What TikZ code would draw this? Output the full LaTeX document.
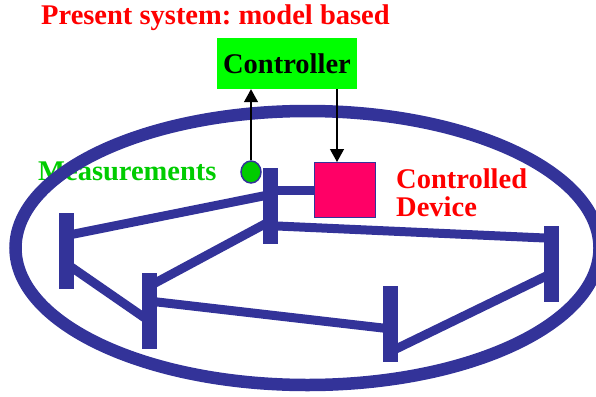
\documentclass[tikz,border=0pt]{standalone}
\usepackage{fontspec}
\setmainfont{Liberation Serif}
\usetikzlibrary{arrows.meta,calc,shapes.geometric}
\definecolor{navy}{RGB}{51,51,153}
\definecolor{brightgreen}{RGB}{0,255,0}
\definecolor{measgreen}{RGB}{0,204,0}
\definecolor{devpink}{RGB}{255,0,102}
\frenchspacing
\begin{document}
\begin{tikzpicture}[x=1pt,y=-1pt,
  lbl/.style={font=\bfseries\fontsize{28.5}{28}\selectfont, inner sep=0pt},
  bar/.style={fill=navy, minimum width=15pt, minimum height=76pt, inner sep=0pt},
  link/.style={draw=navy, line width=9pt},
  arr/.style={draw=black, line width=1.3pt, -{Triangle[width=14pt,length=13pt]}}]
\useasboundingbox (0,0) rectangle (596,396);
% texts
\node[lbl, text=red, anchor=base west] (title) at (41,25) {Present system: model based};
\node[lbl, text=measgreen, anchor=base west] (mtext) at (38,180) {Measurements};
\node[lbl, text=red, anchor=base west, align=left] (dtext) at (396,216) {Controlled\\Device};
% ellipse
\draw[navy, line width=12.5pt] (307.5,248) ellipse [x radius=292pt, y radius=137pt];
% bars
\node[bar] (b1) at (66.5,251) {};
\node[bar] (b2) at (270.5,205.5) {};
\node[bar] (b3) at (149.5,311) {};
\node[bar] (b4) at (390.5,324) {};
\node[bar] (b5) at (551.5,264) {};
% controller and device
\node[lbl, fill=brightgreen, text=black, minimum width=140pt, minimum height=51pt] (ctrl) at (287,63.5) {\raisebox{-2pt}{Controller}};
\node[fill=devpink, draw=navy, line width=1.5pt, minimum width=61pt, minimum height=55pt, inner sep=0pt] (dev) at (345,190) {};
\node[fill=measgreen, draw=navy, line width=1.5pt, ellipse, minimum width=20pt, minimum height=22pt, inner sep=0pt] (meas) at (251,172) {};
% links
\draw[link] ($(b1.center)+(0,-15.5)$) -- ($(b2.center)+(0,-11)$);
\draw[link] ($(b2.center)+(0,15.5)$) -- ($(b3.center)+(0,-25)$);
\draw[link] ($(b1.center)+(0,12.8)$) -- ($(b3.center)+(0,10.2)$);
\draw[link] ($(b3.center)+(0,-9.9)$) -- ($(b4.center)+(0,4.9)$);
\draw[link] ($(b4.center)+(0,27.6)$) -- ($(b5.center)+(0,9.4)$);
\draw[link] ($(b2.center)+(0,20.2)$) -- ($(b5.center)+(0,-25.7)$);
\draw[link] (b2.center |- dev.west) -- (dev.west);
% arrows
\coordinate (din) at (337,162);
\draw[arr] (meas.north) -- (meas.north |- ctrl.south);
\draw[arr] (din |- ctrl.south) -- (din);
\end{tikzpicture}
\end{document}
